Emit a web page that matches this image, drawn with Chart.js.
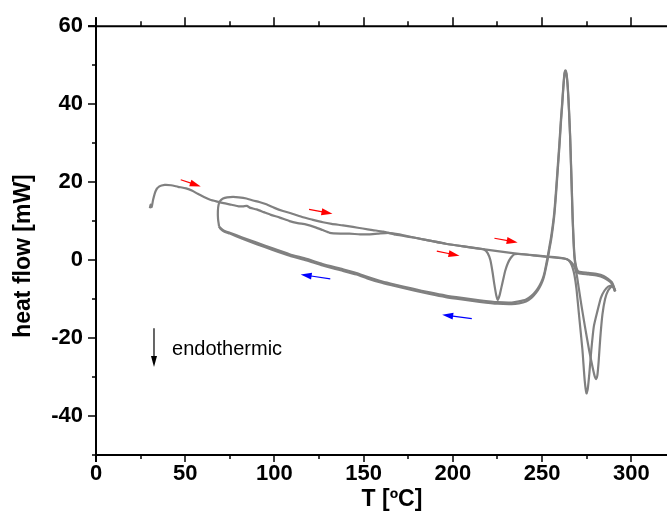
<!DOCTYPE html>
<html>
<head>
<meta charset="utf-8">
<script src="https://cdn.jsdelivr.net/npm/chart.js@4.4.1/dist/chart.umd.min.js"></script>
<style>
  html, body { margin: 0; padding: 0; background: #fff; }
  #wrap { width: 667px; height: 525px; }
</style>
</head>
<body>
<div id="wrap"><canvas id="dsc" width="667" height="525"></canvas></div>
<script>
// axis ticks
const xTicks = [0, 50, 100, 150, 200, 250, 300];
const xMinor = [25, 75, 125, 175, 225, 275];
const yTicks = [-40, -20, 0, 20, 40, 60];
const yMinor = [-50, -30, -10, 10, 30, 50];

// 1st heating (starts at 30 C)
const heat1T = [30.2, 30.6, 31.2, 32.0, 33.5, 35.5, 38.5, 42, 46, 50.5, 54, 57, 60.5, 64, 68, 71.5, 76, 80, 82.5, 84.5, 86.5, 90, 94, 98, 103, 108.5, 113, 118, 123, 127, 131, 137, 142, 148, 153, 158, 164, 170, 178, 187, 196, 206, 214, 217.5, 219.5, 221, 222.2, 223.2, 224.3, 225.2, 226.2, 227.2, 228.2, 229.3, 230.8, 232.5, 234.5, 240, 246, 252, 258, 261.5, 264, 265.8, 267, 268.2, 269.3, 270.8, 272.6, 273.9, 274.9, 275.6, 276.5, 277.6, 279, 281.1, 283, 285, 287, 289.5, 290.5, 291];
const heat1H = [13.3, 14.2, 13.6, 15.5, 17.8, 18.9, 19.3, 19.2, 18.8, 18.4, 17.8, 17.0, 16.2, 15.5, 15.0, 14.6, 14.2, 13.8, 13.8, 13.9, 13.4, 13.0, 12.3, 11.6, 10.9, 10.0, 9.5, 9.1, 8.4, 7.7, 7.0, 6.8, 6.8, 6.6, 6.6, 6.8, 7.0, 6.6, 5.8, 5.0, 4.2, 3.5, 3.0, 2.7, 1.8, 0, -3, -6.1, -9.0, -10.2, -9.0, -7, -5, -2.8, -0.8, 0.6, 1.5, 1.5, 1.2, 0.9, 0.7, 0.5, 0.2, -0.6, -1.8, -4, -7.5, -14.6, -23, -31, -34.2, -33, -29, -23, -17, -12.9, -9.6, -7.8, -6.8, -6.5, -7.4, -8.0];

// 2nd heating (starts at 70 C)
const heat2T = [69, 68.4, 68.3, 68.7, 69.6, 71.2, 73.5, 76.8, 80, 84.3, 88, 91.5, 95.5, 100, 104.8, 110, 116, 121, 127.2, 132, 138.4, 144, 149.5, 155, 161, 168, 178, 187, 196, 206, 216.7, 225, 233.5, 243, 252, 258, 262, 264.5, 266.5, 268, 269.3, 270.5, 272, 274, 276.3, 278.3, 279.6, 280.3, 281, 281.7, 282.6, 283.8, 285.3, 287, 289, 290.5, 291];
const heat2H = [8.6, 10.5, 12.6, 14.2, 15.2, 15.8, 16.1, 16.2, 16.1, 15.8, 15.3, 14.9, 14.3, 13.4, 12.6, 11.9, 11.0, 10.4, 9.7, 9.3, 8.9, 8.5, 8.1, 7.7, 7.3, 6.5, 5.8, 5.0, 4.2, 3.5, 2.8, 2.3, 1.8, 1.3, 0.9, 0.6, 0.4, 0.1, -0.6, -1.6, -3.5, -7, -11.5, -17, -23, -27.5, -30, -30.5, -29.5, -26, -20, -14, -10, -7.8, -6.8, -7.4, -8.0];

// cooling runs (290 -> 70 C)
const coolT = [290.8, 290.2, 289, 287, 284.5, 281, 276, 272, 270.3, 269.4, 268.7, 268.1, 267.6, 267.1, 266.7, 266.2, 265.7, 265.1, 264.4, 263.7, 263.1, 262.5, 261.8, 261.2, 260.6, 259.7, 258.7, 257.8, 256.9, 256, 255, 254, 253.1, 252.2, 251.3, 250.3, 248.5, 246.6, 244, 241, 237, 233, 225, 215, 205, 196, 187, 178, 165, 159, 152, 146, 137, 127, 118, 108.5, 99, 90, 82, 75, 71.5, 69.6, 69];
const cool1H = [-8.0, -6.8, -5.6, -4.8, -4.1, -3.6, -3.3, -3.1, -2.9, -2.2, -0.8, 1.5, 5.8, 11.5, 17.7, 25, 32.1, 38.5, 44.5, 47.8, 48.7, 47.8, 44, 40, 36.4, 30, 23.6, 17.8, 12.6, 9, 5.8, 3.2, 0.8, -1.3, -3.3, -4.8, -6.6, -7.9, -9.2, -10.1, -10.6, -10.9, -10.8, -10.3, -9.7, -9.1, -8.3, -7.4, -6.0, -5.3, -4.3, -3.3, -2.2, -1.0, 0.3, 1.5, 3.0, 4.5, 5.8, 7.0, 7.6, 8.3, 8.6];
const cool2H = [-8.0, -7.0, -6.0, -5.2, -4.5, -4.0, -3.7, -3.5, -3.3, -2.8, -1.4, 0.8, 5.0, 10.6, 16.8, 24.2, 31.5, 38.0, 44.0, 47.5, 48.4, 47.4, 43.4, 39.2, 35.5, 29.0, 22.6, 16.8, 11.7, 8.2, 5.0, 2.5, 0.1, -1.9, -3.8, -5.3, -7.1, -8.4, -9.7, -10.6, -11.1, -11.3, -11.2, -10.7, -10.1, -9.5, -8.7, -7.8, -6.4, -5.7, -4.7, -3.7, -2.6, -1.4, -0.1, 1.1, 2.6, 4.1, 5.5, 6.8, 7.4, 8.1, 8.6];

// direction arrows [T1, H1, T2, H2]
const redArrows = [[47.5, 20.6, 58.7, 18.9], [119.4, 13.0, 132.5, 11.9], [191.0, 2.3, 203.7, 1.1], [223.3, 5.6, 236.3, 4.5]];
const blueArrows = [[131.3, -4.8, 114.7, -3.7], [210.6, -15.0, 194.0, -14.0]];
// endothermic marker
const endoArrow = [32.5, -17.5, 32.5, -27.4];
const endoLabel = { T: 42.6, H: -22.9, text: 'endothermic' };

const FONT = '"Liberation Sans", Arial, Helvetica, sans-serif';
const LINE = '#808080';

function pts(ts, hs) {
    return ts.map((t, i) => ({ x: t, y: hs[i] }));
}

function curve(ts, hs) {
    return {
        data: pts(ts, hs),
        showLine: true,
        borderColor: LINE,
        borderWidth: 2.2,
        pointRadius: 0,
        tension: 0.2,
        fill: false
    };
}

function arrow(ctx, x1, y1, x2, y2, color, head, half) {
    const ang = Math.atan2(y2 - y1, x2 - x1);
    ctx.strokeStyle = color;
    ctx.fillStyle = color;
    ctx.lineWidth = 1.2;
    ctx.beginPath();
    ctx.moveTo(x1, y1);
    ctx.lineTo(x2 - head * 0.8 * Math.cos(ang), y2 - head * 0.8 * Math.sin(ang));
    ctx.stroke();
    ctx.beginPath();
    ctx.moveTo(x2, y2);
    ctx.lineTo(x2 - head * Math.cos(ang) + half * Math.sin(ang), y2 - head * Math.sin(ang) - half * Math.cos(ang));
    ctx.lineTo(x2 - head * Math.cos(ang) - half * Math.sin(ang), y2 - head * Math.sin(ang) + half * Math.cos(ang));
    ctx.closePath();
    ctx.fill();
}

// axes frame, ticks, titles and annotations
const frame = {
    id: 'frame',
    afterDraw(chart) {
        const { ctx, chartArea: a, scales: { x, y } } = chart;
        ctx.save();
        ctx.strokeStyle = '#000';
        ctx.lineWidth = 2;
        ctx.beginPath();
        ctx.moveTo(a.left, a.top - 9); ctx.lineTo(a.left, a.bottom + 7);
        ctx.moveTo(a.left, a.bottom); ctx.lineTo(a.right, a.bottom);
        ctx.moveTo(a.left - 8, a.top); ctx.lineTo(a.right, a.top);
        ctx.stroke();

        ctx.lineWidth = 1.5;
        ctx.beginPath();
        xTicks.forEach(v => {
            const px = Math.round(x.getPixelForValue(v));
            ctx.moveTo(px, a.bottom); ctx.lineTo(px, a.bottom + 7);
            ctx.moveTo(px, a.top); ctx.lineTo(px, a.top - 9);
        });
        xMinor.forEach(v => {
            const px = Math.round(x.getPixelForValue(v));
            ctx.moveTo(px, a.bottom); ctx.lineTo(px, a.bottom + 4);
            ctx.moveTo(px, a.top); ctx.lineTo(px, a.top - 5);
        });
        yTicks.forEach(v => {
            const py = Math.round(y.getPixelForValue(v));
            ctx.moveTo(a.left, py); ctx.lineTo(a.left - 8, py);
        });
        yMinor.forEach(v => {
            const py = Math.round(y.getPixelForValue(v));
            ctx.moveTo(a.left, py); ctx.lineTo(a.left - 4, py);
        });
        ctx.stroke();

        // titles
        ctx.fillStyle = '#000';
        ctx.font = 'bold 23px ' + FONT;
        ctx.textAlign = 'center';
        ctx.textBaseline = 'middle';
        ctx.fillText('T [ºC]', 392, 500);
        ctx.save();
        ctx.translate(24, 256);
        ctx.rotate(-Math.PI / 2);
        ctx.fillText('heat flow [mW]', 0, 0);
        ctx.restore();

        // run direction arrows
        redArrows.forEach(r => arrow(ctx, x.getPixelForValue(r[0]), y.getPixelForValue(r[1]),
            x.getPixelForValue(r[2]), y.getPixelForValue(r[3]), '#ff0000', 11, 3.5));
        blueArrows.forEach(r => arrow(ctx, x.getPixelForValue(r[0]), y.getPixelForValue(r[1]),
            x.getPixelForValue(r[2]), y.getPixelForValue(r[3]), '#0000ff', 11, 3.5));

        // endothermic note
        arrow(ctx, x.getPixelForValue(endoArrow[0]), y.getPixelForValue(endoArrow[1]),
            x.getPixelForValue(endoArrow[2]), y.getPixelForValue(endoArrow[3]), '#000', 11, 3);
        ctx.font = '20px ' + FONT;
        ctx.textAlign = 'left';
        ctx.fillText(endoLabel.text, x.getPixelForValue(endoLabel.T), y.getPixelForValue(endoLabel.H));
        ctx.restore();
    }
};

new Chart(document.getElementById('dsc'), {
    type: 'scatter',
    data: {
        datasets: [
            curve(heat1T, heat1H),
            curve(coolT, cool1H),
            curve(heat2T, heat2H),
            curve(coolT, cool2H)
        ]
    },
    options: {
        responsive: false,
        animation: false,
        devicePixelRatio: 1,
        layout: { padding: { top: 24, right: 0, left: 0, bottom: 0 } },
        plugins: { legend: { display: false }, tooltip: { enabled: false } },
        scales: {
            x: {
                type: 'linear',
                min: 0,
                max: 320,
                afterBuildTicks: s => { s.ticks = xTicks.map(v => ({ value: v })); },
                afterFit: s => { s.height = 70; },
                ticks: { color: '#000', padding: 6, maxRotation: 0, autoSkip: false,
                         font: { family: FONT, size: 22, weight: 'bold' } },
                grid: { display: false, drawTicks: false },
                border: { display: false }
            },
            y: {
                type: 'linear',
                min: -50,
                max: 60,
                afterBuildTicks: s => { s.ticks = yTicks.map(v => ({ value: v })); },
                afterFit: s => { s.width = 96; },
                ticks: { color: '#000', padding: 13, autoSkip: false,
                         font: { family: FONT, size: 22, weight: 'bold' } },
                grid: { display: false, drawTicks: false },
                border: { display: false }
            }
        }
    },
    plugins: [frame]
});
</script>
</body>
</html>
